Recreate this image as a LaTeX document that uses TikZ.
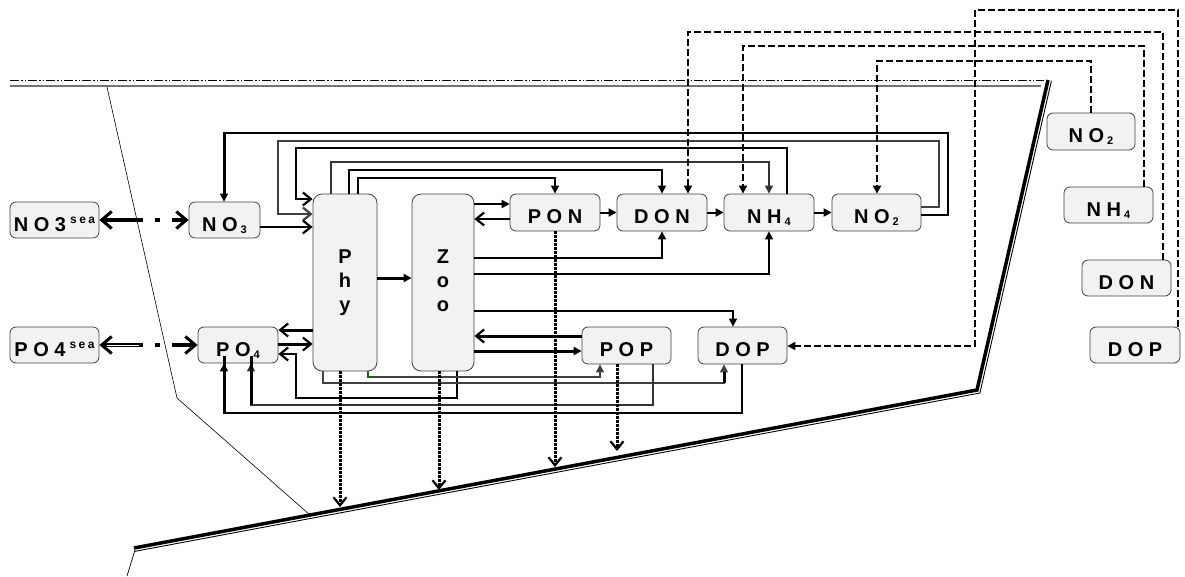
\documentclass[tikz,border=0pt]{standalone}
\usepackage{fontspec}
\setmainfont{Liberation Sans}
\usetikzlibrary{arrows.meta}
\newcommand\sbs[1]{\hspace{3pt}\raisebox{-2pt}{\fontsize{11}{11}\selectfont #1}}
\newcommand\seasup{\hspace{4pt}\raisebox{8pt}{\fontsize{12}{12}\selectfont s\hspace{2.5pt}e\hspace{2.5pt}a}}
\newcommand\vtext[3]{\raisebox{9pt}{\begin{tabular}{@{}c@{}}#1\\#2\\#3\end{tabular}}}
\begin{document}
\begin{tikzpicture}[x=1pt,y=-1pt,
  box/.style={draw=black!75, fill=black!5, rounded corners=6pt, line width=0.8pt, inner sep=0pt,
    font=\fontsize{20}{24}\selectfont\bfseries, text height=22pt, text depth=0pt},
  tall/.style={draw=black!75, fill=black!5, rounded corners=9pt, line width=0.8pt, inner sep=0pt,
    font=\fontsize{20}{24}\selectfont\bfseries},
  ln/.style={line width=1.2pt},
  md/.style={line width=2pt},
  tk/.style={line width=3pt},
  tri/.style={-{Triangle[length=8pt,width=8pt]}},
  chv/.style={-{Straight Barb[length=8pt,width=13pt,line width=2.2pt]}},
  dsh/.style={line width=1.8pt, dash pattern=on 7pt off 3pt},
  dot/.style={line width=3pt, dash pattern=on 2.5pt off 1.5pt},
  seaarrow/.style={dash pattern=on 40pt off 12pt on 5pt off 12pt on 40pt,
    {Straight Barb[length=10pt,width=17pt,line width=3pt]}-{Straight Barb[length=10pt,width=17pt,line width=3pt]}},
]
\useasboundingbox (0,0) rectangle (1185,576);

% surface and boundaries
\draw[line width=0.9pt, dash pattern=on 9pt off 2pt on 1.5pt off 2pt on 1.5pt off 2pt] (10,80) -- (1044,80);
\draw[line width=1.3pt, black!55] (10,86) -- (1041,86);
\draw[line width=0.6pt] (107,87) -- (177,398) -- (310,515);
\draw[line width=3.5pt, line join=miter] (1048,80) -- (977,390) -- (134,548);
\draw[line width=0.9pt] (1051.4,80.8) -- (979.9,393) -- (134.6,551.4);
\draw[line width=0.7pt] (135,550) -- (127,576);

% nodes
\node[box, minimum width=89pt, minimum height=36pt] (NO3sea) at (54.5,220) {N O 3\seasup};
\node[box, minimum width=71pt, minimum height=36pt] (NO3) at (224.5,220) {N O\sbs{3}};
\node[box, minimum width=89pt, minimum height=36pt] (PO4sea) at (54.5,345) {P O 4\seasup};
\node[box, minimum width=80pt, minimum height=36pt] (PO4) at (238,345) {P O\sbs{4}};
\node[tall, minimum width=64pt, minimum height=177pt] (Phy) at (345,282.5) {\vtext{P}{h}{y}};
\node[tall, minimum width=62pt, minimum height=177pt] (Zoo) at (443,282.5) {\vtext{Z}{o}{o}};
\node[box, minimum width=90pt, minimum height=37pt] (PON) at (555,212.5) {P O N};
\node[box, minimum width=90pt, minimum height=37pt] (DON) at (662,212.5) {D O N};
\node[box, minimum width=90pt, minimum height=37pt] (NH4) at (769,212.5) {N H\sbs{4}};
\node[box, minimum width=89pt, minimum height=37pt] (NO2) at (876.5,212.5) {N O\sbs{2}};
\node[box, minimum width=89pt, minimum height=37pt] (POP) at (626.5,345.5) {P O P};
\node[box, minimum width=89pt, minimum height=37pt] (DOP) at (742.5,345.5) {D O P};
\node[box, minimum width=88pt, minimum height=37pt] (NO2r) at (1091,131.5) {N O\sbs{2}};
\node[box, minimum width=89pt, minimum height=36pt] (NH4r) at (1108.5,205) {N H\sbs{4}};
\node[box, minimum width=89pt, minimum height=36pt] (DONr) at (1126.5,278) {D O N};
\node[box, minimum width=90pt, minimum height=36pt] (DOPr) at (1135,345) {D O P};

% exchange with the sea
\draw[line width=3.5pt, seaarrow] (NO3sea.east) -- (NO3.west);
\draw[line width=3.5pt, seaarrow] (PO4sea.east) -- (PO4.west);
\draw[white, line width=1pt] ([xshift=8pt]PO4sea.east) -- ([xshift=40pt]PO4sea.east);

% upper loops
\draw[ln,tri] (NO2.east |- 0,215) -- (948,215) -- (948,133) -- (224,133) -- (NO3.north -| 224,0);
\draw[tk] (224,133) -- (224,195);
\draw[ln,chv,black!75] (NO2.east |- 0,207) -- (939,207) -- (939,141) -- (278,141) -- (278,214) -- (Phy.west |- 0,214);
\draw[ln,chv] (NH4.north -| 787,0) -- (787,148) -- (296,148) -- (296,199) -- (Phy.west |- 0,199);
\draw[ln,chv] (NO3.east |- 0,227) -- (Phy.west |- 0,227);
\draw[ln,tri,black!80] (Phy.north -| 331,0) -- (331,162) -- (769,162) -- (NH4.north);
\draw[ln,tri] (Phy.north -| 349,0) -- (349,170) -- (662,170) -- (DON.north);
\draw[ln,tri] (Phy.north -| 358,0) -- (358,178) -- (555,178) -- (PON.north);

% lateral inputs (dashed)
\draw[dsh,tri] (NO2r.north) -- (NO2r.north |- 0,61) -- (877,61) -- (NO2.north -| 877,0);
\draw[dsh,tri] (NH4r.north -| 1144,0) -- (1144,46) -- (743,46) -- (NH4.north -| 743,0);
\draw[dsh,tri] (DONr.north -| 1163,0) -- (1163,32) -- (688,32) -- (DON.north -| 688,0);
\draw[dsh,tri] (DOPr.north -| 1178,0) -- (1178,10) -- (975,10) -- (975,346) -- (DOP.east |- 0,346);

% nitrogen chain
\draw[md,tri] (Zoo.east |- 0,204) -- (PON.west |- 0,204);
\draw[md,chv] (PON.west |- 0,219) -- (Zoo.east |- 0,219);
\draw[md,tri] (PON.east) -- (DON.west);
\draw[md,tri] (DON.east) -- (NH4.west);
\draw[md,tri] (NH4.east) -- (NO2.west);
\draw[ln,tri] (Zoo.east |- 0,258) -- (662,258) -- (DON.south);
\draw[ln,tri] (Zoo.east |- 0,274) -- (769,274) -- (NH4.south);
\draw[tk,tri] (Phy.east |- 0,278) -- (Zoo.west |- 0,278);
\draw[ln,tri] (Zoo.east |- 0,311) -- (733,311) -- (DOP.north -| 733,0);

% phosphorus
\draw[tk,chv] (POP.west |- 0,336) -- (Zoo.east |- 0,336);
\draw[tk,tri] (Zoo.east |- 0,351) -- (POP.west |- 0,351);
\draw[tk,chv] (Phy.west |- 0,330) -- (PO4.east |- 0,330);
\draw[tk,chv] (PO4.east |- 0,344) -- (Phy.west |- 0,344);
\draw[ln,chv] (Zoo.south -| 457,0) -- (457,398) -- (296,398) -- (296,354) -- (PO4.east |- 0,354);
\draw[ln,tri,black!75] (Phy.south -| 368,0) -- (368,377) -- (600,377) -- (POP.south -| 600,0);
\draw[ln,tri,black!75] (Phy.south -| 323,0) -- (323,383) -- (724,383) -- (DOP.south -| 724,0);
\draw[tk] (724,383) -- (724,372);
\draw[ln,tri,black!80] (POP.south -| 653,0) -- (653,405) -- (251,405) -- (PO4.south -| 251,0);
\draw[tk] (251,405) -- (251,356);
\draw[ln,tri] (DOP.south -| 742,0) -- (742,413) -- (224,413) -- (PO4.south -| 224,0);
\draw[tk] (224,413) -- (224,356);
\draw[green!50!black, line width=1pt] (Phy.south -| 323,0) -- (323,383);
\draw[green!50!black, line width=1pt] (Phy.south -| 368,0) -- (368,377);

% sinking
\draw[dot,chv] (Phy.south -| 340,0) -- (340,507);
\draw[dot,chv] (Zoo.south -| 439,0) -- (439,490);
\draw[dot,chv] (PON.south) -- (555,467);
\draw[dot,chv] (POP.south -| 617,0) -- (617,451);
\end{tikzpicture}
\end{document}
